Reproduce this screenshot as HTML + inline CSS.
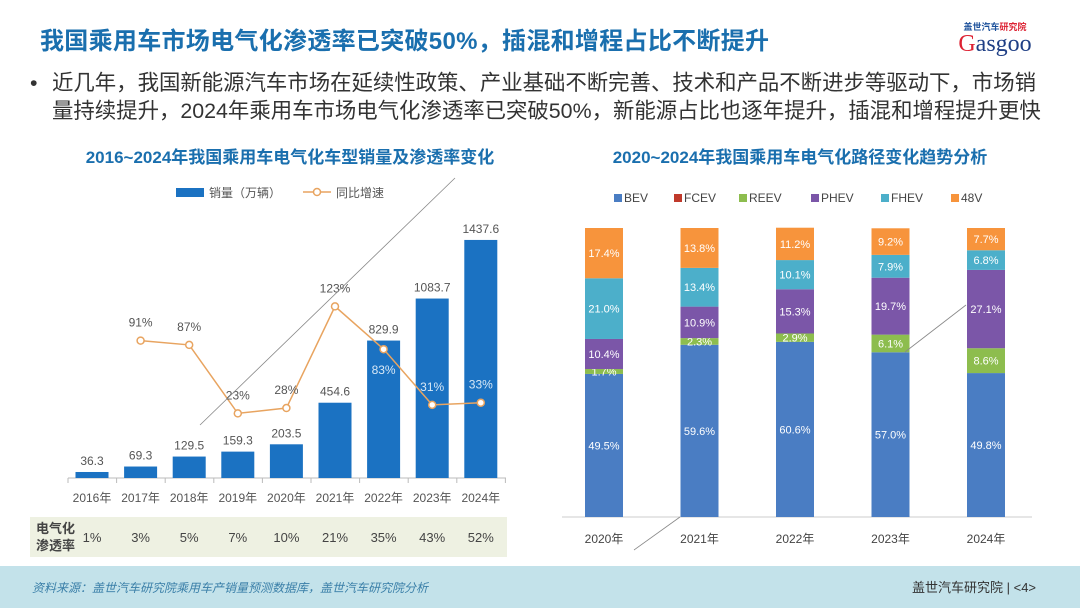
<!DOCTYPE html>
<html><head><meta charset="utf-8">
<style>
body{margin:0;width:1080px;height:608px;overflow:hidden;background:#fff;font-family:"Liberation Sans","Noto Sans CJK SC",sans-serif;position:relative}
.abs{position:absolute}
</style></head><body>
<div class="abs" style="left:40px;top:21px;font-size:24px;color:#1a6fae;font-weight:bold;letter-spacing:0.3px">我国乘用车市场电气化渗透率已突破50%，插混和增程占比不断提升</div>
<div class="abs" style="left:940px;top:20px;width:110px;text-align:center">
<div style="font-size:9px;color:#1a4f9a;font-weight:bold">盖世汽车<span style="color:#d23">研究院</span></div>
<div style="font-family:'Liberation Serif',serif;font-size:24px;color:#1f3f85;line-height:22px"><span style="color:#d23">G</span>asgoo</div>
</div>
<div class="abs" style="left:30px;top:69px;width:1045px;font-size:21.4px;color:#333;line-height:28px;white-space:nowrap">
<span style="display:inline-block;width:22px">•</span>近几年，我国新能源汽车市场在延续性政策、产业基础不断完善、技术和产品不断进步等驱动下，市场销<br><span style="display:inline-block;width:22px"></span>量持续提升，2024年乘用车市场电气化渗透率已突破50%，新能源占比也逐年提升，插混和增程提升更快</div>
<div class="abs" style="left:40px;top:143px;width:500px;text-align:center;font-size:17px;font-weight:bold;color:#1a6fae">2016~2024年我国乘用车电气化车型销量及渗透率变化</div>
<div class="abs" style="left:560px;top:143px;width:480px;text-align:center;font-size:17px;font-weight:bold;color:#1a6fae">2020~2024年我国乘用车电气化路径变化趋势分析</div>
<div class="abs" style="left:30px;top:517px;width:477px;height:40px;background:#eef1e2"></div>
<div class="abs" style="left:0;top:566px;width:1080px;height:42px;background:#c3e2ea"></div>
<div class="abs" style="left:32px;top:579px;font-size:12px;font-style:italic;color:#3a7fa8">资料来源：盖世汽车研究院乘用车产销量预测数据库，盖世汽车研究院分析</div>
<div class="abs" style="left:912px;top:577px;font-size:13px;color:#333">盖世汽车研究院 | &lt;4&gt;</div>
<svg id="chart" class="abs" style="left:0;top:0" width="1080" height="608"></svg>
<script>
const years=['2016年','2017年','2018年','2019年','2020年','2021年','2022年','2023年','2024年'];
const sales=[36.3,69.3,129.5,159.3,203.5,454.6,829.9,1083.7,1437.6];
const growth=[null,91,87,23,28,123,83,31,33];
const penetration=['1%','3%','5%','7%','10%','21%','35%','43%','52%'];
const years2=['2020年','2021年','2022年','2023年','2024年'];
const seriesNames=['BEV','FCEV','REEV','PHEV','FHEV','48V'];
const BEV=[49.5,59.6,60.6,57.0,49.8];
const FCEV=[0,0,0,0,0];
const REEV=[1.7,2.3,2.9,6.1,8.6];
const PHEV=[10.4,10.9,15.3,19.7,27.1];
const FHEV=[21.0,13.4,10.1,7.9,6.8];
const V48=[17.4,13.8,11.2,9.2,7.7];
const colors=['#4a7dc3','#c0392b','#8dbd4e','#7b56a8','#4cafca','#f7943c'];

const svg=document.getElementById('chart');
const NS='http://www.w3.org/2000/svg';
function mk(t,a,txt){const e=document.createElementNS(NS,t);for(const k in a)e.setAttribute(k,a[k]);if(txt!=null)e.textContent=txt;svg.appendChild(e);return e;}
const x0=92,dx=48.6,base=478;
const xL=i=>x0+i*dx;
const yS=v=>base-v*0.1656;
const yG=v=>438-v*1.07;
let e=mk('line',{x1:68,y1:base,x2:506,y2:base,stroke:'#bbb'});


for(let i=0;i<=9;i++){const t=mk('line',{x1:68+i*dx,y1:base,x2:68+i*dx,y2:base+5,stroke:'#bbb'});

}
sales.forEach((v,i)=>{
 const b=mk('rect',{x:xL(i)-16.5,y:yS(v),width:33,height:base-yS(v),fill:'#1b72c2'});
 
 
 const l=mk('text',{x:xL(i),y:yS(v)-7,'text-anchor':'middle','font-size':12,fill:'#555'},v.toFixed(1));
 
 
 const yl=mk('text',{x:xL(i),y:502,'text-anchor':'middle','font-size':12,fill:'#555'},years[i]);
 
 
 const p=mk('text',{x:xL(i),y:542,'text-anchor':'middle','font-size':13,fill:'#444'},penetration[i]);
 
 
});
let rl=mk('text',{x:36,y:533,'font-size':13,'font-weight':'bold',fill:'#444'},'电气化');


rl=mk('text',{x:36,y:550,'font-size':13,'font-weight':'bold',fill:'#444'},'渗透率');


let pts=[];growth.forEach((g,i)=>{if(g!=null)pts.push(xL(i)+','+yG(g));});
const pl=mk('polyline',{points:pts.join(' '),fill:'none',stroke:'#e8a460','stroke-width':1.5});


growth.forEach((g,i)=>{if(g==null)return;
 const c=mk('circle',{cx:xL(i),cy:yG(g),r:3.5,fill:'#fff',stroke:'#e8a460','stroke-width':1.5});
 
 
 const below=(i==6);const ly=below?yG(g)+25:yG(g)-14;
 const inside=ly>yS(sales[i]);
 const t=mk('text',{x:xL(i),y:ly,'text-anchor':'middle','font-size':12,fill:inside?'#d8e8f6':'#555'},g+'%');
 
 
});
let lg=mk('rect',{x:176,y:188,width:28,height:9,fill:'#1b72c2'});


lg=mk('text',{x:209,y:197,'font-size':12,fill:'#555'},'销量（万辆）');


lg=mk('line',{x1:303,y1:192,x2:331,y2:192,stroke:'#e8a460','stroke-width':1.5});


lg=mk('circle',{cx:317,cy:192,r:3.5,fill:'#fff',stroke:'#e8a460','stroke-width':1.5});


lg=mk('text',{x:336,y:197,'font-size':12,fill:'#555'},'同比增速');


const rx0=604,rdx=95.5,rbase=517,topY=228;
const yP=v=>(rbase-topY)*v/100;
e=mk('line',{x1:562,y1:rbase,x2:1032,y2:rbase,stroke:'#ccc'});


const all=[BEV,FCEV,REEV,PHEV,FHEV,V48];
years2.forEach((y,i)=>{
 let cum=0;const cx=rx0+i*rdx;
 all.forEach((s,k)=>{const v=s[i];if(!v)return;
  const h=yP(v),yy=rbase-yP(cum)-h;
  const r=mk('rect',{x:cx-19,y:yy,width:38,height:h,fill:colors[k]});
  
  
  const t=mk('text',{x:cx,y:yy+h/2+4,'text-anchor':'middle','font-size':11,fill:'#fff'},v.toFixed(1)+'%');
  
  
  cum+=v;});
 const t=mk('text',{x:cx,y:543,'text-anchor':'middle','font-size':12,fill:'#444'},y);
 
 
});
const lx=[614,674,739,811,881,951];
seriesNames.forEach((n,k)=>{
 const s=mk('rect',{x:lx[k],y:194,width:8,height:8,fill:colors[k]});
 
 
 const t=mk('text',{x:lx[k]+10,y:202,'font-size':12,fill:'#444'},n);
 
 
});
e=mk('line',{x1:200,y1:425,x2:455,y2:178,stroke:'#888','stroke-width':0.8});


e=mk('line',{x1:634,y1:550,x2:680,y2:517,stroke:'#888','stroke-width':0.8});


e=mk('line',{x1:905,y1:352,x2:966,y2:305,stroke:'#888','stroke-width':0.8});


</script>
</body></html>
